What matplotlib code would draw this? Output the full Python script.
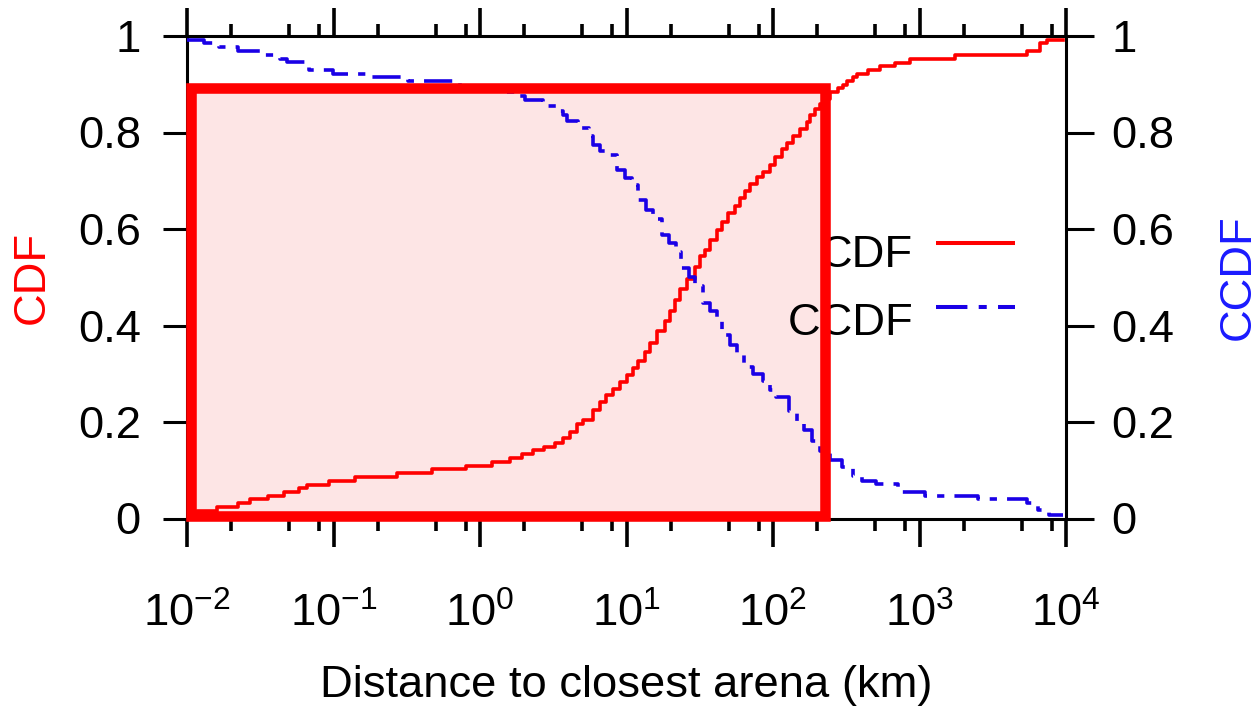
import matplotlib
matplotlib.use('Agg')
import matplotlib.pyplot as plt
from matplotlib.patches import Rectangle
from matplotlib.ticker import FixedLocator, FixedFormatter, LogLocator, NullFormatter

plt.rcParams['font.family'] = ['Liberation Sans', 'DejaVu Sans']
plt.rcParams['mathtext.fontset'] = 'custom'
plt.rcParams['mathtext.rm'] = 'Liberation Sans'
plt.rcParams['mathtext.it'] = 'Liberation Sans:italic'
plt.rcParams['mathtext.bf'] = 'Liberation Sans:bold'

# ---------------- data ----------------
cdf_km = [0.01, 0.0117, 0.016, 0.0223, 0.0269, 0.0357, 0.0459, 0.0582, 0.066, 0.0932,
          0.140, 0.271, 0.47, 0.80, 1.21, 1.60, 1.94, 2.30, 2.74, 3.25,
          3.69, 4.11, 4.59, 5.05, 5.91, 6.59, 7.3, 8.09, 9.03, 10.1,
          11.1, 12.0, 13.4, 14.5, 16.1, 18.3, 19.8, 21.4, 23.2, 25.9,
          29.4, 31.8, 34.4, 37.2, 41.5, 44.9, 49.3, 55.1, 59.6, 64.4,
          69.7, 77.8, 85.5, 95.4, 103, 115, 125, 137, 153, 171,
          180, 194, 209, 226, 245, 278, 300, 320, 352, 374,
          445, 537, 680, 861, 1746, 5420, 6650, 7420, 9600]
cdf_val = [0.010, 0.016, 0.024, 0.033, 0.040, 0.047, 0.055, 0.064, 0.070, 0.078,
           0.086, 0.095, 0.102, 0.109, 0.118, 0.125, 0.134, 0.141, 0.149, 0.156,
           0.166, 0.179, 0.196, 0.204, 0.225, 0.242, 0.255, 0.268, 0.283, 0.297,
           0.312, 0.326, 0.345, 0.364, 0.389, 0.409, 0.430, 0.453, 0.476, 0.496,
           0.521, 0.544, 0.556, 0.577, 0.598, 0.614, 0.633, 0.648, 0.664, 0.679,
           0.693, 0.708, 0.718, 0.733, 0.750, 0.766, 0.778, 0.793, 0.807, 0.822,
           0.836, 0.849, 0.860, 0.869, 0.884, 0.892, 0.899, 0.907, 0.914, 0.922,
           0.930, 0.938, 0.945, 0.952, 0.961, 0.969, 0.985, 0.992, 0.992]

ccdf_km = [0.01, 0.0131, 0.0165, 0.0223, 0.034, 0.0432, 0.0482, 0.0649, 0.068, 0.0993,
           0.177, 0.323, 0.73, 1.41, 1.79, 2.03, 2.69, 3.41, 3.69, 3.93,
           4.67, 5.55, 5.91, 6.6, 7.48, 8.61, 9.7, 10.9, 12.0, 13.5,
           15.2, 17.5, 19.6, 21.8, 23.6, 26.5, 29.4, 33.3, 37.0, 41.5,
           44.9, 50.5, 56.8, 63.4, 73.5, 85.5, 95.4, 105, 129, 146,
           163, 185, 209, 245, 294, 352, 405, 505, 713, 1091,
           2506, 5420, 6440, 7650, 9600]
ccdf_val = [0.992, 0.985, 0.978, 0.969, 0.961, 0.953, 0.946, 0.937, 0.930, 0.921,
            0.914, 0.907, 0.895, 0.884, 0.876, 0.867, 0.855, 0.845, 0.836, 0.824,
            0.809, 0.793, 0.774, 0.762, 0.753, 0.722, 0.706, 0.691, 0.660, 0.640,
            0.621, 0.588, 0.570, 0.552, 0.519, 0.500, 0.482, 0.447, 0.430, 0.411,
            0.380, 0.360, 0.341, 0.314, 0.300, 0.285, 0.266, 0.252, 0.223, 0.202,
            0.183, 0.161, 0.140, 0.121, 0.107, 0.088, 0.078, 0.071, 0.055, 0.047,
            0.040, 0.032, 0.018, 0.007, 0.007]

x_ticks = [1e-2, 1e-1, 1e0, 1e1, 1e2, 1e3, 1e4]
x_tick_labels = [r'$\mathregular{10^{-2}}$', r'$\mathregular{10^{-1}}$', r'$\mathregular{10^{0}}$',
                 r'$\mathregular{10^{1}}$', r'$\mathregular{10^{2}}$', r'$\mathregular{10^{3}}$',
                 r'$\mathregular{10^{4}}$']
y_ticks = [0, 0.2, 0.4, 0.6, 0.8, 1]
y_tick_labels = ['0', '0.2', '0.4', '0.6', '0.8', '1']
series_labels = ['CDF', 'CCDF']
x_label = 'Distance to closest arena (km)'
box_km = [0.01065, 228]
box_val = [0.005, 0.893]

# ---------------- styling ----------------
RED = '#ff0000'
BLUE = '#1a00e6'
FS = 32.7
W, H = 1257, 708
L, R, T, B = 187, 1066, 36, 518.5

fig = plt.figure(figsize=(W / 100, H / 100), dpi=100)
ax = fig.add_axes([L / W, 1 - B / H, (R - L) / W, (B - T) / H])
ax.set_xscale('log')
ax.set_xlim(1e-2, 1e4)
ax.set_ylim(0, 1)

lw_line = 2.6
ax.plot(cdf_km, cdf_val, color=RED, lw=lw_line, drawstyle='steps-post', zorder=3)
dash = (0, (7.8, 2.8, 2.0, 2.8))
ax.plot(ccdf_km, ccdf_val, color=BLUE, lw=lw_line, drawstyle='steps-post',
        linestyle=dash, zorder=3)

# highlight box: fill below curves, edge above
ax.add_patch(Rectangle((box_km[0], box_val[0]), box_km[1] - box_km[0], box_val[1] - box_val[0],
                       facecolor='#fde5e5', edgecolor='none', zorder=0.5))
ax.add_patch(Rectangle((box_km[0], box_val[0]), box_km[1] - box_km[0], box_val[1] - box_val[0],
                       facecolor='none', edgecolor=RED, lw=7.6, zorder=6,
                       clip_on=False, joinstyle='miter'))

# ticks
ax.xaxis.set_major_locator(FixedLocator(x_ticks))
ax.xaxis.set_major_formatter(FixedFormatter(x_tick_labels))
ax.xaxis.set_minor_locator(LogLocator(base=10, subs=(2, 5, 8)))
ax.xaxis.set_minor_formatter(NullFormatter())
ax.tick_params(axis='x', which='major', direction='out', length=20, width=2.6,
               top=True, bottom=True, pad=33, labelsize=FS)
ax.tick_params(axis='x', which='minor', direction='out', length=8.6, width=2.6,
               top=True, bottom=True)
ax.yaxis.set_major_locator(FixedLocator(y_ticks))
ax.yaxis.set_major_formatter(FixedFormatter(y_tick_labels))
ax.tick_params(axis='y', which='major', direction='out', length=17.3, width=2.2,
               left=True, right=False, pad=16, labelsize=FS)
for s in ax.spines.values():
    s.set_linewidth(2.2)

ax2 = ax.twinx()
ax2.set_ylim(0, 1)
ax2.yaxis.set_major_locator(FixedLocator(y_ticks))
ax2.yaxis.set_major_formatter(FixedFormatter(y_tick_labels))
ax2.tick_params(axis='y', which='major', direction='out', length=20, width=2.2,
                pad=12.5, labelsize=FS)
for s in ax2.spines.values():
    s.set_visible(False)

# legend (manual, gnuplot style)
ax.text(0.826, 0.521, series_labels[0], transform=ax.transAxes, ha='right', va='baseline',
        fontsize=FS, zorder=4)
ax.text(0.826, 0.3803, series_labels[1], transform=ax.transAxes, ha='right', va='baseline',
        fontsize=FS, zorder=4)
ax.plot([0.852, 0.942], [0.5716, 0.5716], transform=ax.transAxes, color=RED, lw=2.9,
        solid_capstyle='butt', clip_on=False, zorder=4)
ax.plot([0.852, 0.942], [0.439, 0.439], transform=ax.transAxes, color=BLUE, lw=2.9,
        linestyle=dash, clip_on=False, zorder=4)

# axis labels
fig.text(626.5 / W, 1 - 697 / H, x_label, ha='center', va='baseline', fontsize=FS)
fig.text(32 / W, 1 - 277 / H, series_labels[0], rotation=90, ha='center', va='center',
         fontsize=FS, color=RED)
fig.text(1238 / W, 1 - 277 / H, series_labels[1], rotation=90, ha='center', va='center',
         fontsize=FS, color='#1a1aff')

fig.savefig('out.png', dpi=100)
